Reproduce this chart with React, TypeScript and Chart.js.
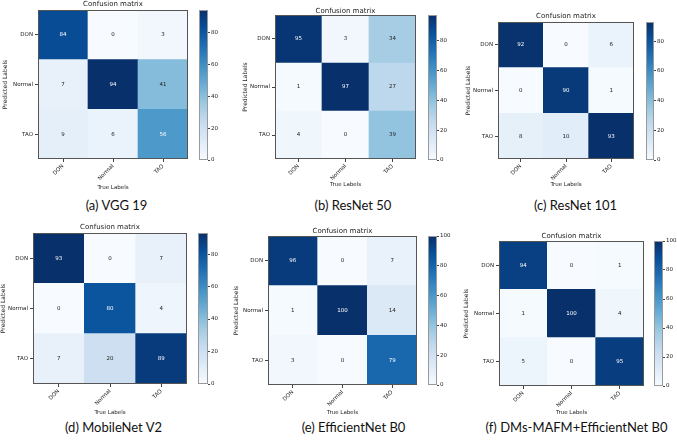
import React, { useEffect, useRef } from 'react';
import { Chart, registerables } from 'chart.js';
Chart.register(...registerables);

// ---------- data ----------
const CLASSES = ['DON', 'Normal', 'TAO'];
const VGG19 = [[84, 0, 3], [7, 94, 41], [9, 6, 56]];
const RESNET50 = [[95, 3, 34], [1, 97, 27], [4, 0, 39]];
const RESNET101 = [[92, 0, 6], [0, 90, 1], [8, 10, 93]];
const MOBILENETV2 = [[93, 0, 7], [0, 80, 4], [7, 20, 89]];
const EFFICIENTNETB0 = [[96, 0, 7], [1, 100, 14], [3, 0, 79]];
const DMS_MAFM_EFFB0 = [[94, 0, 1], [1, 100, 4], [5, 0, 95]];
const MATRICES = [VGG19, RESNET50, RESNET101, MOBILENETV2, EFFICIENTNETB0, DMS_MAFM_EFFB0];
const CAPTIONS = [
  '(a) VGG 19',
  '(b) ResNet 50',
  '(c) ResNet 101',
  '(d) MobileNet V2',
  '(e) EfficientNet B0',
  '(f) DMs-MAFM+EfficientNet B0',
];
const TITLE = 'Confusion matrix';
const X_TITLE = 'True Labels';
const Y_TITLE = 'Predicted Labels';
const COLORBAR_STEP = 20;

// ---------- layout / style ----------
const LAYOUT = [
  { m: [38, 10, 150, 149], cb: [199, 10, 9, 150], titleY: 4.5, yTitleX: 6, xTitleY: 188, cap: [116.5, 205] },
  { m: [275, 15, 141, 144], cb: [428, 15, 9, 145], titleY: 11, yTitleX: 246, xTitleY: 185, cap: [353, 205] },
  { m: [498, 22, 136, 137], cb: [646, 22, 8, 138], titleY: 16, yTitleX: 469, xTitleY: 185, cap: [575.5, 205] },
  { m: [33, 233, 154, 151], cb: [198, 233, 10, 151], titleY: 227, yTitleX: 4, xTitleY: 413, cap: [113.5, 427] },
  { m: [268, 236, 149, 149], cb: [428, 236, 9, 149], titleY: 231, yTitleX: 237, xTitleY: 413, cap: [353.5, 427] },
  { m: [499, 241, 145, 145], cb: [654, 241, 9, 145], titleY: 236, yTitleX: 467, xTitleY: 413, cap: [576.5, 427] },
];
const FONT = '"DejaVu Sans", sans-serif';
const TEXT = '#222';
const TICK = '#444';
const BLUES = ['#f7fbff', '#deebf7', '#c6dbef', '#9ecae1', '#6baed6', '#4292c6', '#2171b5', '#08519c', '#08306b'];

function hexToRgb(h: string) {
  return [parseInt(h.slice(1, 3), 16), parseInt(h.slice(3, 5), 16), parseInt(h.slice(5, 7), 16)];
}
function blues(t: number) {
  const p = Math.max(0, Math.min(1, t)) * (BLUES.length - 1);
  const i = Math.min(Math.floor(p), BLUES.length - 2);
  const f = p - i;
  const a = hexToRgb(BLUES[i]);
  const b = hexToRgb(BLUES[i + 1]);
  const c = a.map((v, k) => Math.round(v + (b[k] - v) * f));
  return `rgb(${c[0]},${c[1]},${c[2]})`;
}

function framePlugin(color: string) {
  return {
    id: 'frame',
    afterDatasetsDraw(chart: any) {
      const { left, top, right, bottom } = chart.chartArea;
      const ctx = chart.ctx;
      ctx.save();
      ctx.strokeStyle = color;
      ctx.lineWidth = 1;
      ctx.strokeRect(Math.round(left) + 0.5, Math.round(top) + 0.5, Math.round(right - left) - 1, Math.round(bottom - top) - 1);
      ctx.restore();
    },
  };
}

function Panel({ matrix, lay, caption }: any) {
  const mainRef = useRef<HTMLCanvasElement>(null);
  const cbRef = useRef<HTMLCanvasElement>(null);
  const [mx, my, mw, mh] = lay.m;
  const [cbx, cby, cbw, cbh] = lay.cb;
  const cLeft = Math.round(lay.yTitleX - 3.6);
  const cTop = Math.round(lay.titleY - 4.5);
  const wy = mx - cLeft;
  const T = my - cTop;
  const pb = Math.max(0, T - 8);
  const hx = Math.round(lay.xTitleY - (my + mh) + 3.3);
  const cW = wy + mw + 2;
  const cH = T + mh + hx;
  const cbPad = 5;
  const cbAxisW = 20;

  useEffect(() => {
    const vmax = Math.max(...matrix.flat());
    const rowsBottomUp = [2, 1, 0];
    const cellText = {
      id: 'cellText',
      afterDatasetsDraw(chart: any) {
        const ctx = chart.ctx;
        ctx.save();
        ctx.font = `5.5px ${FONT}`;
        ctx.textAlign = 'center';
        ctx.textBaseline = 'middle';
        chart.data.datasets.forEach((ds: any, di: number) => {
          const meta = chart.getDatasetMeta(di);
          meta.data.forEach((el: any, i: number) => {
            const v = ds.values[i];
            ctx.fillStyle = v > vmax / 2 ? '#ffffff' : TEXT;
            ctx.fillText(String(v), el.x, (el.y + el.base) / 2);
          });
        });
        ctx.restore();
      },
    };
    const gridOpts = {
      display: true,
      drawOnChartArea: false,
      drawTicks: true,
      tickLength: 3,
      offset: false,
      color: TICK,
      tickColor: TICK,
      lineWidth: 1,
    };
    const main = new Chart(mainRef.current!, {
      type: 'bar',
      data: {
        labels: CLASSES,
        datasets: rowsBottomUp.map((r) => ({
          label: CLASSES[r],
          data: CLASSES.map(() => 1),
          values: matrix[r],
          backgroundColor: matrix[r].map((v: number) => blues(v / vmax)),
          borderWidth: 0,
          barPercentage: 1,
          categoryPercentage: 1,
        })) as any,
      },
      options: {
        responsive: false,
        animation: false,
        layout: { padding: { left: 0, right: 2, top: 0, bottom: 0 } },
        plugins: {
          legend: { display: false },
          tooltip: { enabled: false },
          title: {
            display: true,
            text: TITLE,
            fullSize: false,
            color: TEXT,
            font: { family: FONT, size: 7, lineHeight: 1, weight: 'normal' },
            padding: { top: 1, bottom: pb },
          },
        },
        scales: {
          x: {
            type: 'category',
            stacked: true,
            offset: true,
            grid: gridOpts,
            border: { display: false },
            ticks: {
              autoSkip: false,
              minRotation: 45,
              maxRotation: 45,
              padding: 1,
              color: TEXT,
              font: { family: FONT, size: 5.5 },
            },
            title: { display: true, text: X_TITLE, color: TEXT, font: { family: FONT, size: 5.5, lineHeight: 1.2 }, padding: 0 },
            afterFit: (s: any) => { s.height = hx; },
          },
          y: {
            type: 'linear',
            stacked: true,
            min: 0,
            max: 3,
            afterBuildTicks: (s: any) => { s.ticks = [0.5, 1.5, 2.5].map((value) => ({ value })); },
            grid: gridOpts,
            border: { display: false },
            ticks: {
              padding: 2,
              color: TEXT,
              font: { family: FONT, size: 5.5 },
              callback: (v: any) => CLASSES[2 - Math.floor(Number(v))],
            },
            title: { display: true, text: Y_TITLE, color: TEXT, font: { family: FONT, size: 6, lineHeight: 1.2 }, padding: 0 },
            afterFit: (s: any) => { s.width = wy; },
          },
        },
      } as any,
      plugins: [cellText, framePlugin('#555')],
    });

    const cb = new Chart(cbRef.current!, {
      type: 'bar',
      data: {
        labels: [''],
        datasets: [{
          data: [vmax],
          borderWidth: 0,
          barPercentage: 1,
          categoryPercentage: 1,
          backgroundColor: (c: any) => {
            const area = c.chart.chartArea;
            if (!area) return BLUES[4];
            const g = c.chart.ctx.createLinearGradient(0, area.bottom, 0, area.top);
            BLUES.forEach((col, i) => g.addColorStop(i / (BLUES.length - 1), col));
            return g;
          },
        }],
      },
      options: {
        responsive: false,
        animation: false,
        layout: { padding: { top: cbPad, bottom: cbPad, left: 0, right: 0 } },
        plugins: { legend: { display: false }, tooltip: { enabled: false } },
        scales: {
          x: { display: false },
          y: {
            position: 'right',
            min: 0,
            max: vmax,
            grid: { display: true, drawOnChartArea: false, drawTicks: true, tickLength: 2, color: TICK, tickColor: TICK },
            border: { display: false },
            ticks: { stepSize: COLORBAR_STEP, includeBounds: false, padding: 1, color: TEXT, font: { family: FONT, size: 5.5 } },
            afterFit: (s: any) => { s.width = cbAxisW; },
          },
        },
      } as any,
      plugins: [framePlugin('#999')],
    });
    return () => { main.destroy(); cb.destroy(); };
  }, []);

  return (
    <>
      <canvas
        ref={mainRef}
        width={cW}
        height={cH}
        style={{ position: 'absolute', left: cLeft, top: cTop, width: cW, height: cH, display: 'block' }}
      />
      <canvas
        ref={cbRef}
        width={cbw + cbAxisW}
        height={cbh + 2 * cbPad}
        style={{ position: 'absolute', left: cbx, top: cby - cbPad, width: cbw + cbAxisW, height: cbh + 2 * cbPad, display: 'block' }}
      />
      <div
        style={{
          position: 'absolute',
          left: lay.cap[0],
          top: lay.cap[1],
          transform: 'translate(-50%, -50%)',
          whiteSpace: 'nowrap',
          font: '13px Lato, sans-serif',
          color: '#111',
          lineHeight: '16px',
        }}
      >
        {caption}
      </div>
    </>
  );
}

export default function App() {
  return (
    <div style={{ position: 'absolute', left: 0, top: 0, width: 677, height: 444, background: '#fff', overflow: 'hidden' }}>
      {MATRICES.map((m, i) => (
        <Panel key={i} matrix={m} lay={LAYOUT[i]} caption={CAPTIONS[i]} />
      ))}
    </div>
  );
}
